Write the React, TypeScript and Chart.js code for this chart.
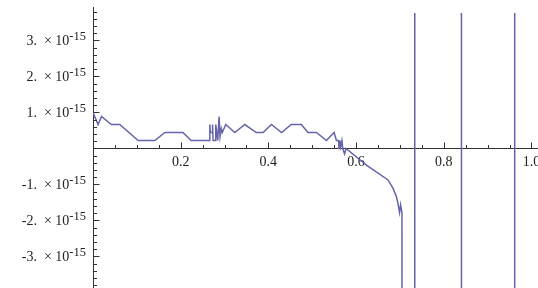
import React, { useEffect, useRef } from 'react';
import { Chart, registerables } from 'chart.js';

Chart.register(...registerables);

// x positions of the sampled curve
const xValues = [
  0.0, 0.0116, 0.0194, 0.042, 0.061, 0.103, 0.141, 0.164, 0.205, 0.224, 0.265,
  0.2664, 0.2675, 0.2718, 0.2727, 0.2739, 0.2791, 0.28, 0.2846, 0.2876, 0.2898, 0.2926, 0.2949, 0.3029,
  0.3234, 0.3462, 0.3724, 0.3879, 0.4071, 0.4299, 0.4522, 0.475, 0.4905, 0.5097, 0.5325, 0.5498, 0.5553,
  0.5601, 0.5612, 0.5633, 0.5649, 0.5678, 0.5697, 0.5738, 0.5772, 0.6244, 0.673,
  0.6844, 0.6921, 0.6958, 0.6992, 0.7015, 0.7047, 0.7058,
  0.7339, 0.7339, 0.8404, 0.8404, 0.9619, 0.9619, 1.02,
];
// y values of the curve, in units of 10^-15 (±60 = far outside the plot range)
const yValues = [
  1.0, 0.666, 0.888, 0.666, 0.666, 0.222, 0.222, 0.444, 0.444, 0.222, 0.222,
  0.666, 0.444, 0.444, 0.666, 0.222, 0.222, 0.666, 0.222, 0.888, 0.333, 0.555, 0.444, 0.666,
  0.444, 0.666, 0.444, 0.444, 0.666, 0.444, 0.666, 0.666, 0.444, 0.444, 0.222, 0.444, 0.222,
  0.222, 0.0, 0.222, 0.05, 0.222, 0.0, -0.15, 0.0, -0.47, -0.875,
  -1.11, -1.34, -1.54, -1.78, -1.57, -1.79, -60,
  -60, 60, 60, -60, -60, 60, 60,
];

const xTickValues = [0.2, 0.4, 0.6, 0.8, 1.0];
const yTickValues = [-3, -2, -1, 1, 2, 3];
const yTickExponent = '-15';
const xMinorStep = 0.05;
const yMinorStep = 0.2;

const X_MIN = 0;
const X_MAX = 1.015;
const Y_MIN = -3.875;
const Y_MAX = 3.93;

const AXIS_COLOR = '#333333';
const TEXT_COLOR = '#222222';
const LINE_COLOR = 'rgb(100, 100, 170)';
const FONT_FAMILY = '"Liberation Serif", "DejaVu Serif", serif';

const axisTicksPlugin = {
  id: 'axisTicks',
  afterDraw(chart: any) {
    const { ctx, scales } = chart;
    const xs = scales.x;
    const ys = scales.y;
    const y0 = Math.round(ys.getPixelForValue(0)) + 0.5;
    const x0 = Math.round(xs.getPixelForValue(0)) + 0.5;
    ctx.save();
    ctx.strokeStyle = AXIS_COLOR;
    ctx.lineWidth = 1;
    ctx.beginPath();
    for (let i = 1; i * xMinorStep <= X_MAX + 1e-9; i++) {
      const v = i * xMinorStep;
      const major = i % 4 === 0;
      const px = Math.round(xs.getPixelForValue(v)) + 0.5;
      ctx.moveTo(px, y0);
      ctx.lineTo(px, y0 - (major ? 6 : 3.5));
    }
    const iMin = Math.ceil(Y_MIN / yMinorStep);
    const iMax = Math.floor(Y_MAX / yMinorStep);
    for (let i = iMin; i <= iMax; i++) {
      if (i === 0) continue;
      const v = i * yMinorStep;
      const major = i % 5 === 0;
      const py = Math.round(ys.getPixelForValue(v)) + 0.5;
      ctx.moveTo(x0, py);
      ctx.lineTo(x0 + (major ? 6 : 3.5), py);
    }
    ctx.stroke();

    // y tick labels in Mathematica style: "n. × 10" with a raised exponent
    ctx.fillStyle = TEXT_COLOR;
    ctx.textBaseline = 'alphabetic';
    const rightEdge = x0 - 7.5;
    for (const v of yTickValues) {
      const py = ys.getPixelForValue(v);
      const main = (v < 0 ? '-' : '') + Math.abs(v) + '.  \u00d7 10';
      ctx.font = '12.5px ' + FONT_FAMILY;
      const supW = ctx.measureText(yTickExponent).width;
      ctx.textAlign = 'left';
      ctx.fillText(yTickExponent, rightEdge - supW, py - 0.5);
      ctx.font = '14px ' + FONT_FAMILY;
      ctx.textAlign = 'right';
      ctx.fillText(main, rightEdge - supW, py + 4.5);
    }
    ctx.restore();
  },
};

const zeroPadding = (s: any) => {
  s.paddingLeft = 0;
  s.paddingRight = 0;
  s.paddingTop = 0;
  s.paddingBottom = 0;
};

export default function App() {
  const canvasRef = useRef<HTMLCanvasElement | null>(null);

  useEffect(() => {
    if (!canvasRef.current) return;
    const points = xValues.map((x, i) => ({ x, y: yValues[i] }));
    const chart = new Chart(canvasRef.current, {
      type: 'line',
      data: {
        datasets: [
          {
            data: points,
            borderColor: LINE_COLOR,
            borderWidth: 1.5,
            pointRadius: 0,
            fill: false,
            tension: 0,
            clip: { left: 0, top: -6, right: 0, bottom: 0 } as any,
          },
        ],
      },
      options: {
        animation: false,
        responsive: false,
        devicePixelRatio: 1,
        layout: { padding: { top: 7, right: 0, bottom: 0, left: 0 } },
        plugins: {
          legend: { display: false },
          tooltip: { enabled: false },
        },
        scales: {
          x: {
            type: 'linear',
            position: { y: 0 } as any,
            min: X_MIN,
            max: X_MAX,
            grid: { display: false, drawTicks: false },
            border: { display: true, color: AXIS_COLOR, width: 1 },
            ticks: {
              padding: 5,
              maxRotation: 0,
              autoSkip: false,
              color: TEXT_COLOR,
              font: { family: FONT_FAMILY, size: 14 },
              callback: (v: any) => Number(v).toFixed(1),
            },
            afterBuildTicks: (s: any) => {
              s.ticks = xTickValues.map((v) => ({ value: v }));
            },
            afterFit: zeroPadding,
          },
          y: {
            type: 'linear',
            position: 'left',
            min: Y_MIN,
            max: Y_MAX,
            grid: { display: false, drawTicks: false },
            border: { display: true, color: AXIS_COLOR, width: 1 },
            ticks: { display: false },
            afterBuildTicks: (s: any) => {
              s.ticks = yTickValues.map((v) => ({ value: v }));
            },
            afterFit: (s: any) => {
              s.width = 93;
              zeroPadding(s);
            },
          },
        },
      },
      plugins: [axisTicksPlugin],
    });
    return () => chart.destroy();
  }, []);

  return (
    <div style={{ position: 'fixed', left: 0, top: 0, width: 538, height: 288, background: '#fff' }}>
      <canvas ref={canvasRef} width={538} height={288} style={{ display: 'block' }} />
    </div>
  );
}
